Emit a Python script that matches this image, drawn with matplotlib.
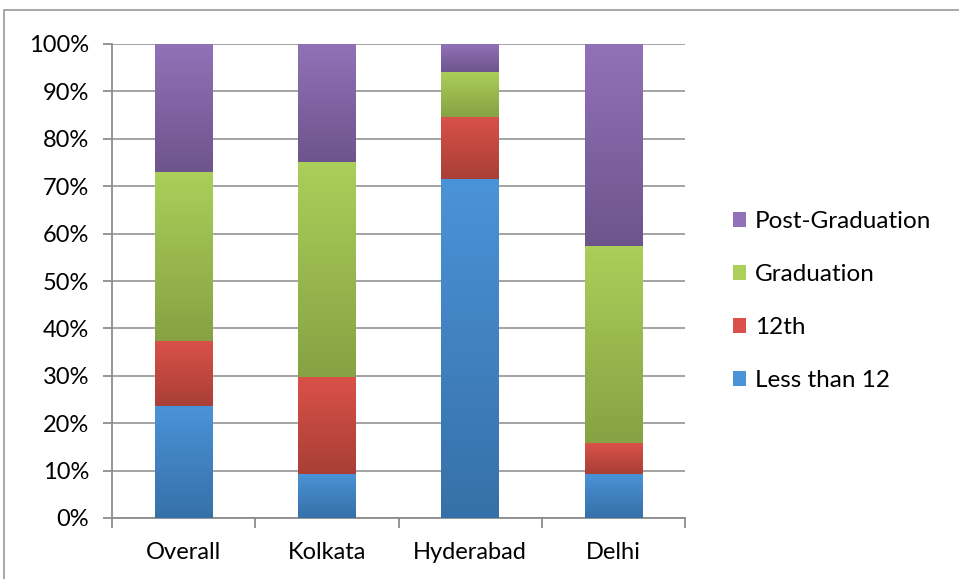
import numpy as np
import matplotlib.pyplot as plt
from matplotlib.colors import LinearSegmentedColormap
from matplotlib.patches import Patch, Rectangle

plt.rcParams['font.family'] = ['Lato', 'DejaVu Sans']

cities = ['Overall', 'Kolkata', 'Hyderabad', 'Delhi']
levels = ['Less than 12', '12th', 'Graduation', 'Post-Graduation']
less_than_12 = [23.6, 9.3, 71.5, 9.3]
twelfth = [13.7, 20.4, 13.1, 6.5]
graduation = [35.7, 45.4, 9.5, 41.6]
post_graduation = [27.0, 24.9, 5.9, 42.6]
series = [less_than_12, twelfth, graduation, post_graduation]

# (top, bottom) colours of each gradient fill
shades = [('#4b93d8', '#3670a8'),
          ('#da5149', '#a83f36'),
          ('#abcf5a', '#86a243'),
          ('#9172b8', '#6e548c')]

fig = plt.figure(figsize=(9.59, 5.79), dpi=100)
ax = fig.add_axes([112 / 959, 61 / 579, 573 / 959, 474 / 579])

# light frame round the whole chart area
fig.patches.append(Rectangle((4 / 959, -0.01), 1.0, (579 - 10) / 579 + 0.01,
                             transform=fig.transFigure, fill=False,
                             edgecolor='#9a9a9a', linewidth=1.2))

x = np.arange(len(cities))
bottom = np.zeros(len(cities))
grad = np.linspace(1, 0, 256).reshape(-1, 1)
for vals, (top_c, bot_c) in zip(series, shades):
    frac = np.array(vals) / 100
    bars = ax.bar(x, frac, 0.40, bottom=bottom, color='none', zorder=3)
    cmap = LinearSegmentedColormap.from_list('g', [bot_c, top_c])
    for b in bars:
        bx, by = b.get_x(), b.get_y()
        ax.imshow(grad, cmap=cmap, aspect='auto', origin='upper',
                  extent=[bx, bx + b.get_width(), by, by + b.get_height()],
                  zorder=3, interpolation='bilinear')
    bottom += frac

ax.set_xlim(-0.5, 3.5)
ax.set_ylim(0, 1)

ax.set_yticks(np.linspace(0, 1, 11))
ax.set_yticklabels([f'{v}%' for v in range(0, 101, 10)])
ax.set_xticks(x)
ax.set_xticklabels(cities)
ax.set_xticks(np.arange(-0.5, 4, 1), minor=True)
ax.tick_params(axis='x', which='major', length=0, pad=17, labelsize=17)
ax.tick_params(axis='x', which='minor', length=7, width=1.3, color='#8c8c8c', direction='out')
ax.tick_params(axis='y', length=6.5, width=1.3, color='#8c8c8c', pad=10, labelsize=17)

ax.grid(axis='y', color='#9c9c9c', linewidth=1.3, zorder=0)
ax.set_axisbelow(True)
for side in ['top', 'right']:
    ax.spines[side].set_visible(False)
for side in ['left', 'bottom']:
    ax.spines[side].set_color('#8c8c8c')
    ax.spines[side].set_linewidth(1.3)

handles = [Patch(facecolor=c[0], edgecolor='none') for c in shades]
ax.legend(handles[::-1], levels[::-1], loc='center left',
          bbox_to_anchor=(711 / 959, 278 / 579), bbox_transform=fig.transFigure,
          frameon=False, fontsize=17.5, labelspacing=1.32,
          handlelength=0.55, handleheight=0.55, handletextpad=0.35)

fig.savefig('out.png', dpi=100)
